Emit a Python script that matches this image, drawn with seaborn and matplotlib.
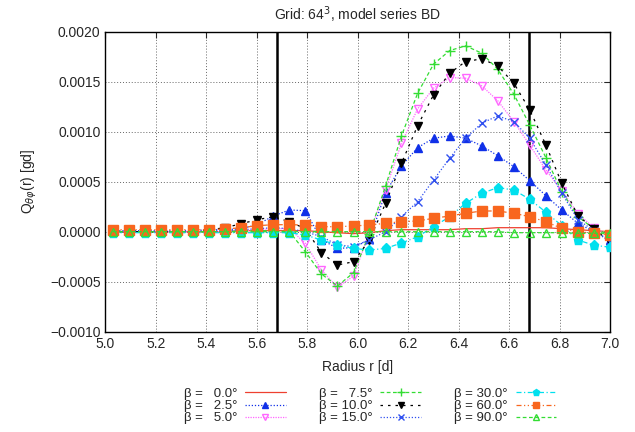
import numpy as np
import seaborn as sns
import matplotlib.pyplot as plt
from matplotlib.ticker import FuncFormatter

# radius grid of the model
r = [5.030, 5.094, 5.157, 5.221, 5.284, 5.348, 5.411, 5.475, 5.538, 5.602,
     5.665, 5.729, 5.792, 5.856, 5.919, 5.983, 6.046, 6.110, 6.173, 6.237,
     6.300, 6.364, 6.427, 6.491, 6.554, 6.618, 6.681, 6.745, 6.808, 6.872,
     6.935, 6.999]

betas = [0.0, 2.5, 5.0, 7.5, 10.0, 15.0, 30.0, 60.0, 90.0]

q_b00 = [0.0, 0.0, 0.0, 0.0, 0.0, 0.0, 0.0, 0.0, 0.00001, 0.00001,
         0.00001, 0.00001, 0.00001, 0.0, -0.00001, -0.00002, -0.00001, 0.00001, 0.00002, 0.00002,
         0.00002, 0.00002, 0.00003, 0.00003, 0.00004, 0.00004, 0.00004, 0.00004, 0.00003, 0.00002,
         0.00001, 0.0]
q_b25 = [0.00001, 0.00001, 0.00001, 0.00001, 0.00001, 0.00001, 0.00002, 0.00002, 0.00003, 0.00007,
         0.000157, 0.000217, 0.00021, -0.00008, -0.000166, -0.00016, -0.000076, 0.00039, 0.000657, 0.00084,
         0.000934, 0.000957, 0.000934, 0.000857, 0.00076, 0.00065, 0.00051, 0.00036, 0.000217, 0.000084,
         0.0, -0.00008]
q_b50 = [0.0, 0.0, 0.0, 0.0, 0.0, 0.0, 0.0, 0.0, 0.00001, 0.00002,
         0.00003, 0.00003, -0.000116, -0.000383, -0.000556, -0.000443, -0.00001, 0.00042, 0.000884, 0.001227,
         0.001434, 0.00154, 0.001534, 0.001457, 0.00131, 0.0011, 0.000867, 0.000617, 0.00041, 0.00018,
         0.00004, -0.00003]
q_b75 = [0.0, 0.0, 0.0, 0.0, 0.0, 0.0, 0.0, 0.0, 0.00001, 0.00001,
         0.00001, 0.0, -0.0002, -0.000423, -0.000543, -0.00041, -0.00002, 0.000457, 0.000957, 0.001384,
         0.001674, 0.00181, 0.001857, 0.001784, 0.001624, 0.001374, 0.001067, 0.00074, 0.0004, 0.00015,
         0.00003, -0.00003]
q_b10 = [0.0, 0.0, 0.0, 0.0, 0.0, 0.00001, 0.00002, 0.00004, 0.00008, 0.00012,
         0.00015, 0.0001, 0.00003, -0.00021, -0.000333, -0.0003, -0.000083, 0.000284, 0.000684, 0.00106,
         0.001367, 0.001584, 0.0017, 0.001727, 0.001657, 0.001484, 0.001217, 0.000867, 0.000484, 0.00016,
         0.00003, -0.0001]
q_b15 = [0.0, 0.0, 0.0, 0.0, 0.0, 0.0, 0.00001, 0.00001, 0.00002, 0.00003,
         0.00004, 0.00003, 0.0, -0.00005, -0.00013, -0.00015, -0.00008, 0.0, 0.00015, 0.0003,
         0.000517, 0.000734, 0.000934, 0.001084, 0.001157, 0.0011, 0.000934, 0.000667, 0.000384, 0.00012,
         0.00001, -0.0001]
q_b30 = [-0.00001, -0.00001, -0.00001, -0.00001, -0.00001, -0.00001, -0.00001, -0.00001, -0.00001, -0.00001,
         -0.00001, -0.00001, -0.000033, -0.000083, -0.000133, -0.000167, -0.000183, -0.000167, -0.000113, -0.00005,
         0.00005, 0.00015, 0.000284, 0.000384, 0.00044, 0.000417, 0.000324, 0.000195, 0.00006, -0.000083,
         -0.000135, -0.000155]
q_b60 = [0.00002, 0.00002, 0.00002, 0.00002, 0.00002, 0.00002, 0.00002, 0.000027, 0.00004, 0.00006,
         0.00007, 0.00007, 0.000067, 0.00005, 0.00005, 0.000057, 0.000067, 0.000084, 0.0001, 0.000107,
         0.000134, 0.000157, 0.000184, 0.000207, 0.000207, 0.000184, 0.00015, 0.0001, 0.000033, 0.0,
         -0.000016, -0.00003]
q_b90 = [0.0, 0.0, 0.0, 0.0, 0.0, 0.0, 0.0, 0.0, 0.0, 0.0,
         0.0, 0.0, 0.0, 0.0, 0.0, 0.0, 0.0, 0.0, 0.0, 0.0,
         0.0, 0.0, 0.0, 0.0, 0.0, -0.00001, -0.00001, -0.00001, -0.00001, -0.000016,
         -0.000016, -0.000016]

series = [q_b00, q_b25, q_b50, q_b75, q_b10, q_b15, q_b30, q_b60, q_b90]

# gnuplot-like styles
colors = ['#ee4030', '#1030e8', '#ff66ff', '#33dd33', '#000000', '#3050f0', '#00e0ee', '#f8661e', '#33dd33']
markers = ['', '^', 'v', '+', 'v', 'x', 'p', 's', '^']
filled = [True, True, False, True, True, True, True, True, False]
styles = ['-', (0, (1, 1.5)), (0, (1, 1)), (0, (3, 2)), (0, (2, 4)),
          (0, (1, 1.5)), (0, (4, 2, 1, 2)), (0, (4, 2, 1, 2, 1, 2)), (0, (3, 2))]
msizes = [0, 5.5, 6, 7, 5.5, 6, 6.5, 6.5, 6]

sns.set_style('white')
plt.rcParams['font.family'] = ['Liberation Sans', 'DejaVu Sans']
plt.rcParams['font.size'] = 10

fig, ax = plt.subplots(figsize=(6.35, 4.32), dpi=100)
fig.subplots_adjust(left=0.166, right=0.961, top=0.927, bottom=0.232)

ax.axvline(5.68, color='black', lw=1.8, zorder=1)
ax.axvline(6.68, color='black', lw=1.8, zorder=1)

for i, b in enumerate(betas):
    lab = 'β = ' + ('  ' if b < 10 else '') + f'{b:.1f}°'
    kw = dict(color=colors[i], linestyle=styles[i], lw=0.9)
    if markers[i]:
        kw.update(marker=markers[i], markersize=msizes[i],
                  markerfacecolor=colors[i] if filled[i] else 'none',
                  markeredgecolor=colors[i], markeredgewidth=1.0)
    sns.lineplot(x=r, y=series[i], ax=ax, label=lab, zorder=3 + i, **kw)

ax.set_xlim(5.0, 7.0)
ax.set_ylim(-0.0010, 0.0020)
ax.set_xticks(np.arange(5.0, 7.01, 0.2))
ax.set_yticks(np.arange(-0.0010, 0.00201, 0.0005))
ax.xaxis.set_major_formatter(FuncFormatter(lambda v, p: f'{v:.1f}'))
ax.yaxis.set_major_formatter(FuncFormatter(lambda v, p: f'{v:.4f}'.replace('-', '\u2212')))
ax.tick_params(direction='in', top=True, right=True, length=4, width=0.8, labelsize=10)
ax.grid(True, color='#666666', linestyle=(0, (1, 2)), lw=0.7)
for s in ax.spines.values():
    s.set_color('black')
    s.set_linewidth(1.0)

ax.set_title('Grid: 64$^3$, model series BD', fontsize=10, pad=8)
ax.set_xlabel('Radius r [d]', fontsize=10, labelpad=7)
ax.set_ylabel(r'Q$_{\theta\varphi}$(r) [gd]', fontsize=10, labelpad=8)

handles, labels = ax.get_legend_handles_labels()
ax.get_legend().remove()
fig.legend(handles, labels, loc='center', bbox_to_anchor=(370 / 635, 1 - 406 / 432),
           ncol=3, frameon=False, markerfirst=False, numpoints=1, fontsize=9.5,
           markerscale=0.75, handlelength=3.1, handletextpad=0.6, columnspacing=2.5,
           labelspacing=0.0, borderpad=0.2)

plt.savefig('out.png', dpi=100)
